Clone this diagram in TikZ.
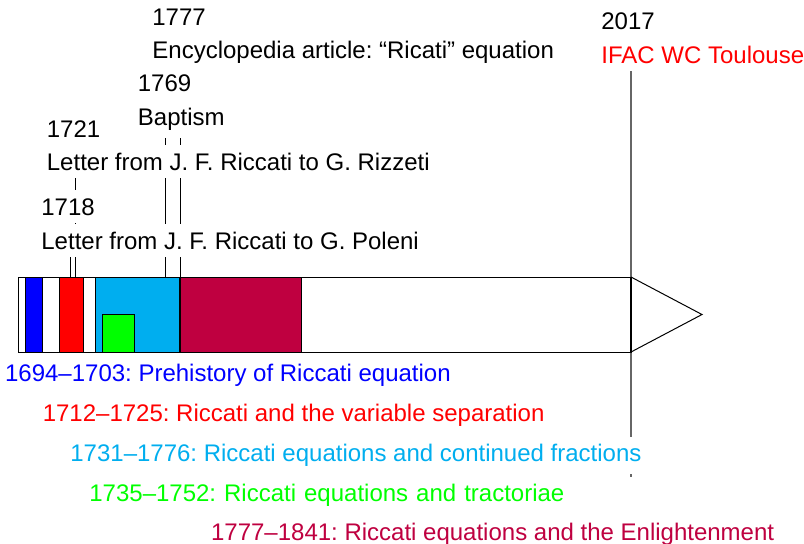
\documentclass[tikz,border=0pt]{standalone}
\usepackage{fontspec}
\setmainfont{Liberation Sans}
\usetikzlibrary{backgrounds}
\definecolor{cCyan}{RGB}{0,174,239}
\definecolor{cPurple}{RGB}{191,0,64}
\definecolor{cBlue}{RGB}{0,0,255}
\definecolor{cRed}{RGB}{255,0,0}
\definecolor{cGreen}{RGB}{0,255,0}
\frenchspacing
\tikzset{
  lab/.style={anchor=base west, fill=white, inner sep=3.9pt, font=\fontsize{12}{14}\selectfont},
  evline/.style={draw=black, line width=0.5pt},
  todayline/.style={draw=black!60, line width=0.6pt},
  band/.style={draw=black, line width=0.5pt},
  barbox/.style={draw=black, fill=white, line width=0.5pt},
}
\begin{document}
\begin{tikzpicture}[x=0.5pt,y=-0.5pt]
\useasboundingbox (0,0) rectangle (804,543);

% time arrow
\draw[barbox] (18,277) rectangle (631,352);
\draw[barbox] (631,277) -- (702,314.5) -- (631,352);
\draw[band, fill=cBlue] (25,277) rectangle (42.7,352);
\draw[band, fill=cRed] (59.3,277) rectangle (83.3,352);
\draw[band, fill=cCyan] (95,277) rectangle (179.5,352);
\draw[band, fill=cPurple] (180.5,277) rectangle (301.7,352);
\draw[band, fill=cGreen] (102.3,314.5) rectangle (134.3,352);
\draw[line width=1.1pt] (631,277) -- (631,352);

% event anchors on the bar
\coordinate (t1718) at (70,277);
\coordinate (t1721) at (75.6,277);
\coordinate (t1769) at (165.6,277);
\coordinate (t1777) at (180.6,277);
\coordinate (t2017) at (631,277);

% event labels
\node[lab] (y1777) at (144.2,25.5) {1777};
\node[lab] (e1777) at (144.2,58.5) {Encyclopedia article: “Ricati” equation};
\node[lab] (y1769) at (129.7,91.5) {1769};
\node[lab] (e1769) at (129.7,125) {Baptism};
\node[lab] (y1721) at (38.7,137) {1721};
\node[lab] (e1721) at (38.7,170) {Letter from J. F. Riccati to G. Rizzeti};
\node[lab] (y1718) at (33.2,215) {1718};
\node[lab] (e1718) at (33.2,249) {Letter from J. F. Riccati to G. Poleni};
\node[lab] (y2017) at (593.2,29) {2017};
\node[lab, text=cRed] (e2017) at (593.2,63) {IFAC WC Toulouse};

% period labels
\node[lab, text=cBlue] (p1) at (-3.1,381.5) {1694–1703: Prehistory of Riccati equation};
\node[lab, text=cRed] (p2) at (34.6,421.7) {1712–1725: Riccati and the variable separation};
\node[lab, text=cCyan] (p3) at (62.2,461.7) {1731–1776: Riccati equations and continued fractions};
\node[lab, text=cGreen, text width=272pt, align=left] (p4) at (81.2,501.7) {1735–1752: Riccati equations and tractoriae};
\node[lab, text=cPurple] (p5) at (202.9,540) {1777–1841: Riccati equations and the Enlightenment};

\begin{scope}[on background layer]
  \fill[white] (0,0) rectangle (804,543);
  \draw[evline] (t1718) -- (t1718 |- e1718.south);
  \draw[evline] (t1721) -- (t1721 |- e1721.south);
  \draw[evline] (t1769) -- (t1769 |- e1769.south);
  \draw[evline] (t1777) -- (t1777 |- e1777.south);
  \draw[todayline] (t2017 |- e2017.south) -- (t2017 |- p5.north);
\end{scope}
\end{tikzpicture}
\end{document}
